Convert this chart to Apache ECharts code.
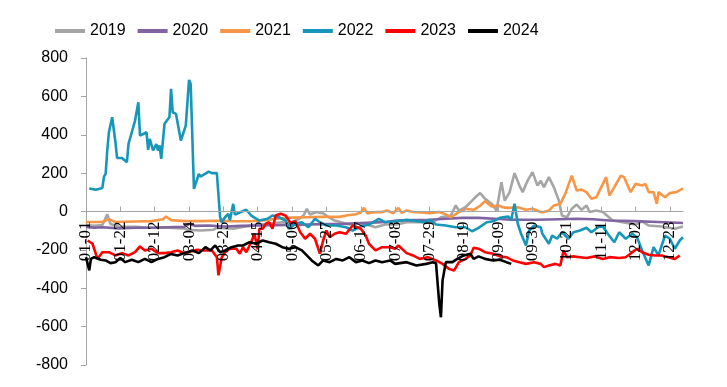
<!DOCTYPE html>
<html><head><meta charset="utf-8">
<script src="https://cdn.jsdelivr.net/npm/echarts@6/dist/echarts.min.js"></script>
<style>html,body{margin:0;padding:0;background:#fff}#c{width:727px;height:387px}</style>
</head><body><div id="c"></div>
<script>
// categories: daily dates of a leap year (MM-DD)
const dates = [];
(function(){const dm=[31,29,31,30,31,30,31,31,30,31,30,31];for(let m=0;m<12;m++)for(let d=1;d<=dm[m];d++)dates.push(String(m+1).padStart(2,'0')+'-'+String(d).padStart(2,'0'));})();

const yTicks = [-800,-600,-400,-200,0,200,400,600,800];
const names = ['2019','2020','2021','2022','2023','2024'];

// [day index, value]
const s2019 = [[0,-70],[5,-75],[10,-70],[13,-15],[15,-65],[20,-80],[30,-80],[40,-85],[50,-85],[60,-88],[62,-95],[70,-99],[78,-95],[80,-85],[90,-90],[95,-82],[100,-75],[105,-68],[112,-64],[120,-56],[125,-60],[130,-40],[133,-21],[135,14],[137,-16],[141,-3],[145,-10],[147,-21],[152,-47],[161,-68],[165,-60],[170,-64],[177,-82],[183,-68],[190,-68],[196,-56],[205,-56],[212,-56],[217,-30],[223,-21],[226,31],[228,5],[232,22],[235,48],[238,74],[241,96],[244,66],[248,40],[251,5],[254,153],[256,57],[259,101],[262,200],[265,135],[267,101],[270,161],[273,205],[276,135],[278,160],[280,127],[283,179],[286,127],[289,60],[291,-21],[294,-30],[297,14],[300,36],[303,9],[306,31],[308,-3],[312,5],[316,-3],[322,-47],[328,-56],[336,-68],[340,-51],[344,-73],[352,-78],[360,-90],[365,-78]];
const s2020 = [[0,-80],[5,-85],[10,-82],[20,-88],[30,-85],[40,-85],[50,-82],[60,-80],[63,-64],[67,-75],[75,-73],[85,-78],[95,-75],[105,-73],[115,-72],[125,-70],[135,-68],[145,-66],[155,-65],[165,-62],[175,-58],[183,-55],[190,-47],[200,-45],[210,-43],[220,-38],[230,-33],[240,-33],[250,-38],[260,-43],[275,-43],[290,-40],[300,-38],[310,-40],[320,-47],[335,-50],[350,-55],[365,-60]];
const s2021 = [[0,-55],[10,-55],[14,-40],[18,-55],[30,-52],[40,-50],[47,-40],[49,-26],[52,-45],[60,-50],[70,-50],[80,-48],[90,-50],[100,-51],[110,-45],[116,-38],[125,-32],[135,-30],[145,-28],[155,-28],[160,-20],[165,-14],[168,-5],[170,19],[172,-10],[177,-3],[181,-3],[184,5],[188,-9],[191,19],[193,-7],[196,5],[200,-3],[205,-5],[210,-9],[216,-3],[220,-15],[223,-30],[228,-3],[232,14],[237,9],[241,30],[244,54],[248,26],[252,31],[256,20],[259,19],[264,22],[269,9],[273,14],[278,-3],[280,-3],[283,5],[286,31],[290,40],[293,92],[297,187],[300,109],[303,114],[306,101],[309,66],[312,74],[316,144],[318,179],[320,83],[323,127],[327,187],[329,179],[333,101],[336,144],[340,135],[342,144],[344,101],[347,101],[349,40],[350,101],[354,74],[357,96],[361,101],[365,120]];
const s2022 = [[2,120],[6,113],[10,123],[11,182],[12,196],[13,318],[14,413],[16,491],[18,361],[19,279],[22,279],[25,257],[26,352],[28,413],[30,474],[32,569],[33,396],[35,404],[37,413],[38,321],[39,378],[41,318],[43,352],[44,318],[45,344],[46,274],[48,457],[51,491],[52,639],[53,517],[55,509],[58,370],[61,448],[63,686],[64,665],[66,118],[69,196],[70,182],[75,208],[77,200],[80,200],[82,-30],[83,-56],[85,-30],[87,-12],[88,-45],[90,40],[91,-16],[94,-5],[98,9],[101,-21],[106,-47],[111,-38],[114,-21],[118,-30],[122,-47],[124,-90],[128,-64],[132,-56],[136,-82],[140,-38],[143,-56],[147,-73],[153,-73],[159,-82],[163,-99],[168,-78],[173,-68],[179,-38],[183,-56],[190,-51],[196,-43],[202,-51],[207,-56],[210,-43],[214,-68],[220,-73],[226,-82],[232,-82],[236,-103],[240,-85],[245,-56],[249,-51],[253,-33],[258,-26],[260,-43],[262,40],[264,-64],[266,-116],[269,-177],[271,-99],[274,-73],[278,-82],[279,-116],[283,-168],[285,-125],[288,-142],[291,-108],[295,-142],[298,-108],[302,-99],[306,-85],[309,-108],[313,-82],[316,-78],[319,-116],[323,-160],[326,-108],[330,-142],[334,-116],[337,-137],[340,-203],[344,-281],[347,-186],[350,-229],[354,-125],[357,-142],[360,-194],[363,-151],[365,-134]];
const s2023 = [[1,-151],[4,-168],[7,-247],[10,-212],[14,-212],[18,-229],[22,-217],[26,-229],[30,-212],[33,-182],[36,-203],[40,-194],[44,-217],[48,-217],[52,-212],[56,-203],[60,-217],[64,-208],[68,-199],[72,-203],[77,-203],[80,-238],[81,-333],[83,-238],[85,-212],[88,-194],[92,-194],[94,-220],[96,-186],[98,-212],[101,-160],[103,-116],[105,-198],[106,-90],[108,-90],[110,-64],[112,-56],[114,-90],[116,-21],[119,-12],[122,-21],[125,-60],[128,-51],[131,-108],[134,-142],[137,-116],[140,-142],[143,-220],[145,-151],[147,-99],[149,-134],[152,-116],[155,-108],[159,-116],[163,-73],[168,-90],[171,-125],[173,-168],[177,-203],[181,-186],[186,-186],[189,-194],[191,-177],[196,-217],[200,-229],[204,-247],[209,-238],[214,-255],[218,-273],[222,-299],[225,-308],[228,-264],[232,-247],[235,-229],[237,-189],[240,-194],[244,-212],[249,-220],[253,-234],[257,-238],[261,-255],[265,-264],[269,-273],[274,-264],[278,-273],[280,-290],[283,-281],[287,-273],[290,-281],[292,-203],[294,-238],[298,-234],[302,-238],[306,-242],[311,-234],[316,-247],[320,-238],[326,-242],[330,-238],[334,-212],[337,-194],[340,-212],[344,-225],[348,-229],[352,-229],[356,-238],[360,-247],[363,-229]];
const s2024 = [[0,-238],[2,-307],[3,-247],[5,-238],[9,-251],[12,-255],[15,-269],[18,-264],[21,-242],[24,-264],[28,-251],[32,-264],[36,-247],[40,-264],[44,-247],[48,-238],[52,-221],[56,-229],[60,-217],[65,-203],[69,-217],[73,-186],[76,-203],[79,-177],[82,-212],[85,-203],[89,-186],[93,-177],[96,-177],[100,-160],[104,-168],[108,-151],[112,-160],[116,-168],[120,-186],[124,-194],[128,-186],[132,-203],[135,-229],[138,-255],[142,-281],[145,-255],[149,-264],[153,-247],[157,-255],[161,-238],[165,-264],[169,-255],[173,-269],[177,-255],[181,-264],[186,-255],[189,-273],[196,-264],[202,-281],[208,-273],[212,-264],[214,-270],[216,-481],[217,-551],[218,-359],[220,-264],[224,-264],[227,-247],[231,-229],[235,-220],[237,-247],[240,-234],[244,-247],[249,-255],[253,-251],[257,-264],[260,-273]];

const seriesData = [s2019,s2020,s2021,s2022,s2023,s2024];
const colors = ['#a5a5a5','#8064a2','#f79646','#1696b8','#ff0000','#000000'];

const chart = echarts.init(document.getElementById('c'), null, {renderer:'canvas'});
const gridTop = 58, gridBottom = 22, H = 387;
const gridH = H - gridTop - gridBottom;
chart.setOption({
  animation:false,
  color: colors,
  legend:{
    top:18, left:50, itemWidth:30, itemHeight:4, itemGap:12, icon:'rect',
    textStyle:{fontFamily:'Liberation Sans Narrow, Liberation Sans, sans-serif', fontSize:16, color:'#000'},
    data:names
  },
  grid:{left:86, right:44, top:gridTop, bottom:gridBottom, containLabel:false, outerBoundsMode:'none'},
  xAxis:{
    type:'category', data:dates, boundaryGap:false, offset:-gridH/2, z:5,
    axisLine:{onZero:false, lineStyle:{color:'#a6a6a6', width:1}},
    axisTick:{show:true, interval:20, inside:true, length:5, lineStyle:{color:'#a6a6a6'}},
    axisLabel:{interval:20, rotate:90, margin:10, color:'#000', fontFamily:'Liberation Serif, serif', fontSize:17},
    splitLine:{show:false}
  },
  yAxis:{
    type:'value', min:yTicks[0], max:yTicks[yTicks.length-1], interval:200,
    axisLine:{show:true, lineStyle:{color:'#a6a6a6'}},
    axisTick:{show:true, length:5, lineStyle:{color:'#a6a6a6'}},
    axisLabel:{margin:18, color:'#000', fontFamily:'Liberation Sans, sans-serif', fontSize:16},
    splitLine:{show:false}
  },
  series: names.map((n,i)=>({
    name:n, type:'line', showSymbol:false, symbol:'none',
    lineStyle:{width:2.6, color:colors[i]},
    data: seriesData[i].map(([d,v])=>[dates[d], v])
  }))
});
</script></body></html>
